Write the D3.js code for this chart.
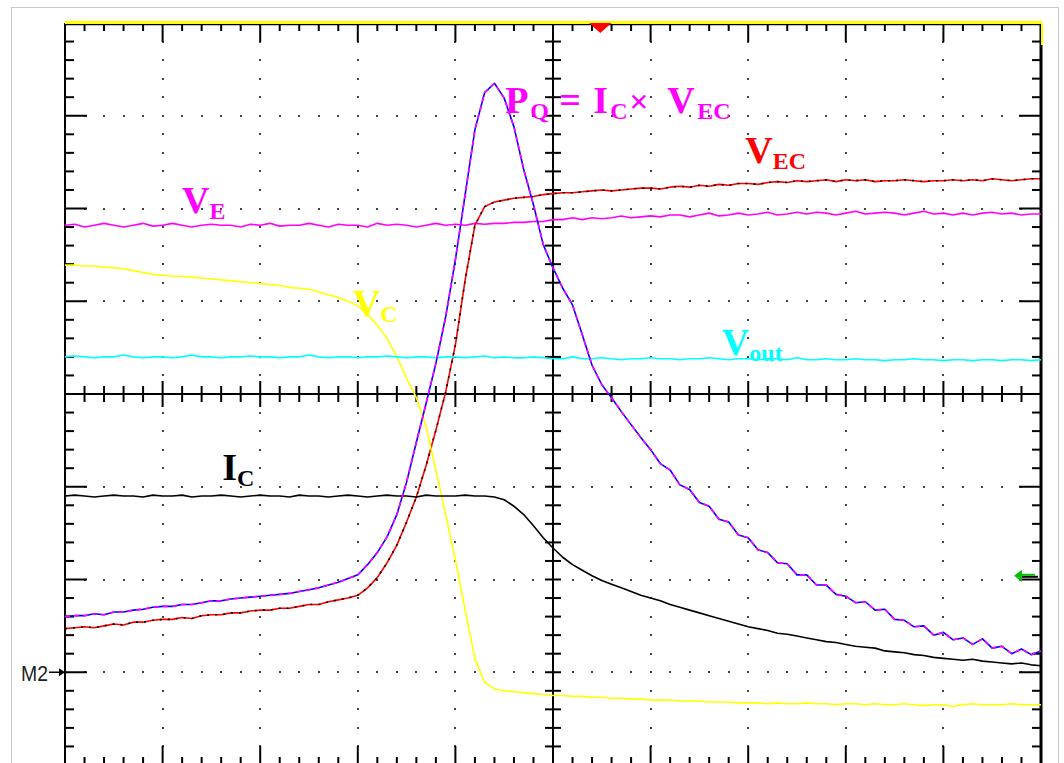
<!DOCTYPE html>
<html>
<head>
<meta charset="utf-8">
<script src="https://cdn.jsdelivr.net/npm/d3@7"></script>
<style>
  body { margin: 0; background: #fff; }
  svg { display: block; }
  .lbl { font-family: "Liberation Serif", "Times New Roman", serif; font-weight: bold; white-space: pre; }
</style>
</head>
<body>
<svg id="scope" width="1064" height="763"></svg>
<script>
// screen: 10 x 8 divisions, 5 minor steps each
var DIV_X = 10, DIV_Y = 8, MINOR = 5;

// one sample every 0.1 division
var sampleTimes = d3.range(0, 101).map(function(i) { return i / 10; });

// trace levels, in divisions from the centre line
var vE = [1.82,1.83,1.80,1.82,1.84,1.82,1.80,1.82,1.84,1.81,
  1.82,1.84,1.82,1.80,1.82,1.83,1.82,1.82,1.80,1.83,
  1.82,1.84,1.81,1.82,1.82,1.84,1.82,1.80,1.83,1.82,
  1.82,1.80,1.84,1.82,1.83,1.82,1.80,1.82,1.84,1.82,
  1.83,1.82,1.84,1.83,1.84,1.84,1.85,1.85,1.86,1.86,
  1.88,1.88,1.90,1.88,1.90,1.89,1.90,1.92,1.90,1.91,
  1.92,1.91,1.93,1.93,1.91,1.93,1.95,1.92,1.93,1.95,
  1.93,1.94,1.96,1.93,1.94,1.96,1.94,1.96,1.95,1.93,
  1.95,1.97,1.94,1.95,1.96,1.95,1.93,1.95,1.97,1.94,
  1.95,1.93,1.95,1.93,1.95,1.96,1.94,1.95,1.93,1.94,
  1.94];

var vOut = [0.40,0.41,0.40,0.39,0.40,0.40,0.42,0.40,0.39,0.40,
  0.40,0.39,0.40,0.42,0.40,0.40,0.39,0.40,0.40,0.41,
  0.40,0.40,0.39,0.40,0.40,0.42,0.40,0.39,0.40,0.40,
  0.39,0.40,0.40,0.41,0.40,0.39,0.40,0.40,0.39,0.40,
  0.40,0.39,0.40,0.41,0.39,0.40,0.39,0.39,0.40,0.39,
  0.38,0.38,0.40,0.38,0.38,0.39,0.38,0.37,0.38,0.38,
  0.39,0.38,0.38,0.37,0.38,0.38,0.39,0.38,0.37,0.38,
  0.38,0.37,0.38,0.38,0.37,0.39,0.37,0.37,0.38,0.37,
  0.37,0.38,0.37,0.37,0.36,0.37,0.37,0.38,0.37,0.37,
  0.36,0.37,0.37,0.36,0.37,0.37,0.36,0.37,0.37,0.36,
  0.37];

var vC = [1.39,1.39,1.38,1.38,1.37,1.36,1.35,1.33,1.31,1.29,
  1.28,1.27,1.27,1.26,1.25,1.24,1.23,1.22,1.21,1.20,
  1.19,1.18,1.17,1.15,1.14,1.13,1.10,1.07,1.04,1.00,
  0.95,0.86,0.74,0.60,0.40,0.17,-0.04,-0.35,-0.82,-1.30,
  -1.79,-2.33,-2.85,-3.11,-3.18,-3.20,-3.21,-3.22,-3.23,-3.24,
  -3.25,-3.25,-3.26,-3.26,-3.27,-3.27,-3.28,-3.28,-3.29,-3.29,
  -3.30,-3.30,-3.30,-3.31,-3.31,-3.31,-3.32,-3.32,-3.32,-3.33,
  -3.33,-3.33,-3.34,-3.33,-3.34,-3.34,-3.33,-3.34,-3.34,-3.35,
  -3.34,-3.34,-3.35,-3.34,-3.35,-3.35,-3.34,-3.35,-3.36,-3.35,
  -3.35,-3.37,-3.35,-3.34,-3.35,-3.35,-3.35,-3.34,-3.35,-3.35,
  -3.35];

var iC = [-1.10,-1.09,-1.10,-1.11,-1.10,-1.09,-1.10,-1.10,-1.11,-1.09,
  -1.10,-1.10,-1.09,-1.11,-1.10,-1.10,-1.09,-1.10,-1.11,-1.10,
  -1.09,-1.10,-1.10,-1.11,-1.09,-1.10,-1.10,-1.11,-1.10,-1.09,
  -1.10,-1.11,-1.10,-1.09,-1.10,-1.10,-1.11,-1.09,-1.10,-1.10,
  -1.10,-1.09,-1.10,-1.10,-1.11,-1.14,-1.21,-1.30,-1.42,-1.55,
  -1.66,-1.76,-1.84,-1.90,-1.96,-2.01,-2.05,-2.09,-2.13,-2.17,
  -2.20,-2.23,-2.27,-2.30,-2.33,-2.36,-2.39,-2.42,-2.45,-2.48,
  -2.51,-2.53,-2.55,-2.58,-2.59,-2.61,-2.63,-2.65,-2.67,-2.68,
  -2.70,-2.72,-2.73,-2.74,-2.77,-2.78,-2.79,-2.81,-2.82,-2.84,
  -2.85,-2.86,-2.87,-2.86,-2.88,-2.89,-2.90,-2.91,-2.90,-2.92,
  -2.93];

var vEC = [-2.53,-2.52,-2.51,-2.52,-2.50,-2.48,-2.49,-2.46,-2.46,-2.44,
  -2.43,-2.43,-2.41,-2.42,-2.39,-2.38,-2.38,-2.36,-2.36,-2.34,
  -2.33,-2.33,-2.31,-2.31,-2.29,-2.27,-2.27,-2.24,-2.22,-2.20,
  -2.17,-2.09,-1.98,-1.82,-1.63,-1.38,-1.11,-0.77,-0.39,0.02,
  0.53,1.23,1.82,2.02,2.07,2.09,2.11,2.12,2.13,2.15,
  2.16,2.17,2.17,2.18,2.19,2.20,2.19,2.20,2.21,2.22,
  2.22,2.21,2.23,2.24,2.23,2.25,2.24,2.26,2.25,2.27,
  2.27,2.26,2.28,2.29,2.28,2.30,2.29,2.30,2.31,2.29,
  2.31,2.30,2.31,2.29,2.30,2.30,2.31,2.30,2.29,2.30,
  2.30,2.31,2.30,2.31,2.30,2.32,2.31,2.30,2.31,2.32,
  2.32];

var pQ = [-2.40,-2.39,-2.39,-2.37,-2.38,-2.35,-2.35,-2.33,-2.32,-2.30,
  -2.29,-2.29,-2.27,-2.27,-2.25,-2.23,-2.23,-2.21,-2.20,-2.19,
  -2.18,-2.17,-2.16,-2.15,-2.13,-2.11,-2.09,-2.06,-2.03,-1.99,
  -1.95,-1.84,-1.71,-1.54,-1.30,-0.95,-0.52,-0.10,0.33,0.83,
  1.45,2.15,2.85,3.25,3.35,3.19,2.88,2.42,2.04,1.61,
  1.36,1.14,0.96,0.64,0.31,0.10,-0.04,-0.19,-0.33,-0.47,
  -0.60,-0.75,-0.82,-0.98,-1.03,-1.17,-1.21,-1.35,-1.38,-1.52,
  -1.55,-1.68,-1.71,-1.82,-1.83,-1.95,-1.95,-2.06,-2.06,-2.16,
  -2.18,-2.25,-2.24,-2.33,-2.32,-2.43,-2.44,-2.51,-2.50,-2.60,
  -2.57,-2.65,-2.63,-2.70,-2.64,-2.74,-2.72,-2.80,-2.75,-2.81,
  -2.77];

var traces = [
  {name: "VE",   values: vE,   color: "#ff00ff"},
  {name: "VEC",  values: vEC,  color: "#ff0000", overlay: "#000000"},
  {name: "VC",   values: vC,   color: "#ffff00"},
  {name: "Vout", values: vOut, color: "#00ffff"},
  {name: "IC",   values: iC,   color: "#000000"},
  {name: "PQ",   values: pQ,   color: "#0000ff", overlay: "#ff00ff"}
];

// label anchors in divisions
var labels = [
  {main: "V", sub: "E",   t: 1.20, v: 1.95,  color: "#ff00ff"},
  {main: "V", sub: "EC",  t: 6.97, v: 2.49,  color: "#ff0000"},
  {main: "V", sub: "C",   t: 2.95, v: 0.84,  color: "#ffff00"},
  {main: "V", sub: "out", t: 6.73, v: 0.42,  color: "#00ffff"},
  {main: "I", sub: "C",   t: 1.61, v: -0.93, color: "#000000"}
];

// pieces of the power formula: text, font size, x offset, baseline shift
var formula = [
  ["P", 38, 0, 0], ["Q", 24, 25, 6], ["=", 38, 54, 0], ["I", 38, 88, 0],
  ["C", 24, 105, 6], ["\u00d7", 34, 124, 0], ["V", 38, 162, 0], ["EC", 24, 192, 6]
];

var svg = d3.select("#scope");

var x = d3.scaleLinear().domain([0, DIV_X]).range([65, 1041]),
    y = d3.scaleLinear().domain([-DIV_Y / 2, DIV_Y / 2]).range([765, 23]);

drawFrame();
drawGraticule();
drawTraces();
drawLabels();
drawMarkers();

function drawFrame() {
  svg.append("rect")
      .attr("x", 11.5).attr("y", 7.5)
      .attr("width", 1047).attr("height", 800)
      .attr("fill", "#fff")
      .attr("stroke", "#c8c8c8");
}

function drawGraticule() {
  var g = svg.append("g").attr("class", "graticule");
  var minorX = d3.range(0, DIV_X * MINOR + 1).map(function(i) { return i / MINOR; }),
      minorY = d3.range(0, DIV_Y * MINOR + 1).map(function(i) { return i / MINOR - DIV_Y / 2; });

  // dotted major lines
  d3.range(-3, 4).forEach(function(v) {
    if (v === 0) return;
    g.selectAll(null).data(minorX.slice(1, -1)).enter().append("rect")
        .attr("x", function(d) { return Math.round(x(d)) - 1; })
        .attr("y", Math.round(y(v)) - 1)
        .attr("width", 2).attr("height", 2)
        .attr("fill", "#444");
  });
  d3.range(1, DIV_X).forEach(function(t) {
    if (t === DIV_X / 2) return;
    g.selectAll(null).data(minorY.slice(1, -1)).enter().append("rect")
        .attr("x", Math.round(x(t)) - 1)
        .attr("y", function(d) { return Math.round(y(d)) - 1; })
        .attr("width", 2).attr("height", 2)
        .attr("fill", "#444");
  });

  // centre cross
  g.append("line")
      .attr("x1", x(0)).attr("x2", x(DIV_X))
      .attr("y1", y(0)).attr("y2", y(0))
      .attr("stroke", "#000").attr("stroke-width", 2);
  g.append("line")
      .attr("x1", x(DIV_X / 2)).attr("x2", x(DIV_X / 2))
      .attr("y1", y(4)).attr("y2", y(-4))
      .attr("stroke", "#000").attr("stroke-width", 2);

  var isMajor = function(d) { return Math.abs(d - Math.round(d)) < 1e-6; };

  // ticks on the centre lines
  g.selectAll(null).data(minorX.slice(1, -1)).enter().append("line")
      .attr("x1", function(d) { return x(d); }).attr("x2", function(d) { return x(d); })
      .attr("y1", function(d) { return y(0) - (isMajor(d) ? 13 : 8); })
      .attr("y2", function(d) { return y(0) + (isMajor(d) ? 13 : 8); })
      .attr("stroke", "#000").attr("stroke-width", 2);
  g.selectAll(null).data(minorY.slice(1, -1)).enter().append("line")
      .attr("x1", x(DIV_X / 2) - 8).attr("x2", x(DIV_X / 2) + 8)
      .attr("y1", function(d) { return y(d); }).attr("y2", function(d) { return y(d); })
      .attr("stroke", "#000").attr("stroke-width", 2);

  // border ticks
  g.selectAll(null).data(minorY.slice(1, -1)).enter().append("line")
      .attr("x1", x(0)).attr("x2", function(d) { return x(0) + (isMajor(d) ? 22 : 9); })
      .attr("y1", function(d) { return y(d); }).attr("y2", function(d) { return y(d); })
      .attr("stroke", "#000").attr("stroke-width", 2);
  g.selectAll(null).data(minorY.slice(1, -1)).enter().append("line")
      .attr("x1", x(DIV_X)).attr("x2", function(d) { return x(DIV_X) - (isMajor(d) ? 22 : 9); })
      .attr("y1", function(d) { return y(d); }).attr("y2", function(d) { return y(d); })
      .attr("stroke", "#000").attr("stroke-width", 2);
  g.selectAll(null).data(minorX.slice(1, -1)).enter().append("line")
      .attr("x1", function(d) { return x(d); }).attr("x2", function(d) { return x(d); })
      .attr("y1", y(4)).attr("y2", function(d) { return y(4) + (isMajor(d) ? 19 : 8); })
      .attr("stroke", "#000").attr("stroke-width", 2);
  g.selectAll(null).data(minorX.slice(1, -1)).enter().append("line")
      .attr("x1", function(d) { return x(d); }).attr("x2", function(d) { return x(d); })
      .attr("y1", y(-4)).attr("y2", function(d) { return y(-4) - (isMajor(d) ? 19 : 8); })
      .attr("stroke", "#000").attr("stroke-width", 2);

  // borders
  g.append("line")
      .attr("x1", x(0)).attr("x2", x(0)).attr("y1", y(4)).attr("y2", y(-4))
      .attr("stroke", "#000").attr("stroke-width", 2);
  g.append("line")
      .attr("x1", x(DIV_X)).attr("x2", x(DIV_X)).attr("y1", y(4)).attr("y2", y(-4))
      .attr("stroke", "#000").attr("stroke-width", 3);
  g.append("line")
      .attr("x1", x(0)).attr("x2", x(DIV_X) + 1).attr("y1", y(4) + 1.5).attr("y2", y(4) + 1.5)
      .attr("stroke", "#000").attr("stroke-width", 1.5);
  g.append("line")
      .attr("x1", x(0)).attr("x2", x(DIV_X) + 1).attr("y1", y(4) - 0.5).attr("y2", y(4) - 0.5)
      .attr("stroke", "#ffff00").attr("stroke-width", 3);
  g.append("line")
      .attr("x1", x(DIV_X) + 1).attr("x2", x(DIV_X) + 1).attr("y1", y(4)).attr("y2", y(4) + 22)
      .attr("stroke", "#ffff00").attr("stroke-width", 2);
}

function drawTraces() {
  var line = d3.line()
      .x(function(d, i) { return x(sampleTimes[i]); })
      .y(function(d) { return y(d); });

  var trace = svg.selectAll(".trace")
    .data(traces)
    .enter().append("g")
    .attr("class", "trace");

  trace.append("path")
      .attr("d", function(d) { return line(d.values); })
      .attr("fill", "none")
      .attr("stroke", function(d) { return d.color; })
      .attr("stroke-width", 1.6)
      .attr("stroke-linejoin", "round");

  trace.filter(function(d) { return d.overlay; })
    .append("path")
      .attr("d", function(d) { return line(d.values); })
      .attr("fill", "none")
      .attr("stroke", function(d) { return d.overlay; })
      .attr("stroke-width", 1.6)
      .attr("stroke-dasharray", function(d) { return d.name === "PQ" ? "5,4" : "2,6"; });
}

function drawLabels() {
  var lab = svg.selectAll(".lbl")
    .data(labels)
    .enter().append("text")
    .attr("class", "lbl")
    .attr("x", function(d) { return x(d.t); })
    .attr("y", function(d) { return y(d.v); })
    .attr("fill", function(d) { return d.color; });
  lab.append("tspan").style("font-size", "38px").text(function(d) { return d.main; });
  lab.append("tspan").style("font-size", "24px").attr("dy", 6).text(function(d) { return d.sub; });

  // power formula P_Q = I_C x V_EC
  var x0 = x(4.51), y0 = y(3.03);
  svg.append("g").selectAll("text")
    .data(formula)
    .enter().append("text")
    .attr("class", "lbl")
    .attr("x", function(d) { return x0 + d[2]; })
    .attr("y", function(d) { return y0 + d[3]; })
    .attr("fill", "#ff00ff")
    .style("font-size", function(d) { return d[1] + "px"; })
    .text(function(d) { return d[0]; });
}

function drawMarkers() {
  // trigger position
  svg.append("path")
      .attr("d", d3.line()([[x(5.37), y(4)], [x(5.6), y(4)], [x(5.485), y(4) + 10]]))
      .attr("fill", "#ff0000");

  // M2 ground marker
  svg.append("text")
      .attr("x", 21).attr("y", y(-3) + 9)
      .attr("textLength", 27)
      .attr("lengthAdjust", "spacingAndGlyphs")
      .style("font", "22px 'Liberation Sans', Arial, sans-serif")
      .attr("fill", "#222")
      .text("M2");
  svg.append("line")
      .attr("x1", 49).attr("x2", x(0) - 4).attr("y1", y(-3)).attr("y2", y(-3))
      .attr("stroke", "#000").attr("stroke-width", 1.5);
  svg.append("path")
      .attr("d", d3.line()([[x(0) - 6, y(-3) - 4], [x(0), y(-3)], [x(0) - 6, y(-3) + 4]]))
      .attr("fill", "#000");

  // trigger level arrow on the right
  var ty = y(-1.96);
  svg.append("line")
      .attr("x1", x(DIV_X) - 20).attr("x2", x(DIV_X) - 3).attr("y1", ty + 1).attr("y2", ty + 1)
      .attr("stroke", "#000").attr("stroke-width", 2);
  svg.append("line")
      .attr("x1", x(DIV_X) - 22).attr("x2", x(DIV_X) - 6).attr("y1", ty - 1).attr("y2", ty - 1)
      .attr("stroke", "#00c000").attr("stroke-width", 2);
  svg.append("path")
      .attr("d", d3.line()([[x(DIV_X) - 27, ty], [x(DIV_X) - 19, ty - 6], [x(DIV_X) - 19, ty + 6]]))
      .attr("fill", "#00c000");
}
</script>
</body>
</html>
